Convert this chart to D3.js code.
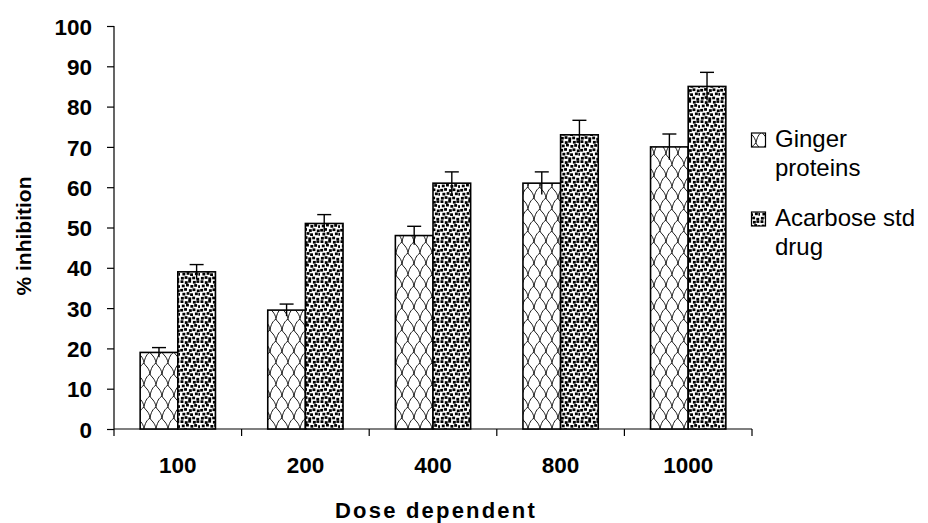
<!DOCTYPE html>
<html>
<head>
<meta charset="utf-8">
<script src="https://cdn.jsdelivr.net/npm/d3@7"></script>
<style>
  body { margin: 0; background: #fff; }
  text { font-family: "Liberation Sans", Arial, sans-serif; }
</style>
</head>
<body>
<svg id="chart" width="928" height="523"></svg>
<script>
// data
var doses = ["100", "200", "400", "800", "1000"];
var ginger = [19, 29.5, 48, 61, 70];
var gingerErr = [1.2, 1.5, 2.3, 2.8, 3.2];
var acarbose = [39, 51, 61, 73, 85];
var acarboseErr = [1.8, 2.2, 2.8, 3.6, 3.5];
var legendLines = [["Ginger", "proteins"], ["Acarbose std", "drug"]];
var yTicks = [0, 10, 20, 30, 40, 50, 60, 70, 80, 90, 100];

var svg = d3.select("#chart");
var defs = svg.append("defs");

// fish scale pattern for ginger
var pg = defs.append("pattern")
    .attr("id", "scales")
    .attr("patternUnits", "userSpaceOnUse")
    .attr("width", 12).attr("height", 22);
pg.append("rect").attr("width", 12).attr("height", 22).attr("fill", "#fff");
pg.append("path")
    .attr("d", "M0,11 C1,5 3,2 6,0 C7,3 11,4 12,11" +
               "M-6,22 C-5,16 -3,13 0,11 C1,14 5,15 6,22" +
               "M6,22 C7,16 9,13 12,11 C13,14 17,15 18,22")
    .attr("fill", "none")
    .attr("stroke", "#000")
    .attr("stroke-width", 0.9);

// speckled pattern for acarbose
var pd = defs.append("pattern")
    .attr("id", "dots")
    .attr("patternUnits", "userSpaceOnUse")
    .attr("width", 20).attr("height", 20);
pd.append("rect").attr("width", 20).attr("height", 20).attr("fill", "#fff");
[[0.5,0.3],[4.8,1.2],[8.2,0],[12.9,0.9],[16.4,0.2],
 [1.8,4.6],[6.0,3.8],[10.4,5.0],[14.2,4.1],[18.1,5.2],
 [0.2,8.9],[4.1,8.1],[8.9,9.2],[12.5,8.4],[16.8,9.5],
 [2.4,12.8],[6.6,12.1],[10.1,13.3],[14.9,12.5],[18.4,13.0],
 [0.9,16.9],[4.6,16.2],[8.3,17.4],[12.2,16.6],[16.3,17.8]].forEach(function(p) {
    pd.append("rect").attr("x", p[0]).attr("y", p[1])
        .attr("width", 2.9).attr("height", 2.7).attr("fill", "#000");
});

var x0 = d3.scaleBand().domain(doses).range([114, 752]).paddingInner(0.41).paddingOuter(0.205);
var x1 = d3.scaleBand().domain([0, 1]).range([0, x0.bandwidth()]);
var y = d3.scaleLinear().domain([0, 100]).range([429, 26]);

// axes
var yAxis = svg.append("g")
    .attr("transform", "translate(114,0)")
    .call(d3.axisLeft(y).tickValues(yTicks).tickSize(7).tickPadding(15));
yAxis.attr("font-family", null).attr("font-size", null);
yAxis.select(".domain").attr("stroke", "#000").attr("stroke-width", 1.2).attr("d", "M-7,26.5H0V429");
yAxis.selectAll("text")
    .attr("font-size", 22.5).attr("font-weight", "bold").attr("fill", "#000")
    .attr("dy", "0.36em");
yAxis.selectAll("line").attr("stroke-width", 1.2);

svg.append("line")
    .attr("x1", 114).attr("x2", 752)
    .attr("y1", y(0)).attr("y2", y(0))
    .attr("stroke", "#000").attr("stroke-width", 1.2);

svg.append("g").selectAll("line")
    .data(d3.range(doses.length + 1))
    .join("line")
    .attr("x1", function(i) { return 114 + i * x0.step(); })
    .attr("x2", function(i) { return 114 + i * x0.step(); })
    .attr("y1", y(0)).attr("y2", y(0) + 7)
    .attr("stroke", "#000").attr("stroke-width", 1.2);

svg.append("g").selectAll("text")
    .data(doses)
    .join("text")
    .attr("x", function(d) { return x0(d) + x0.bandwidth() / 2; })
    .attr("y", 473)
    .attr("text-anchor", "middle")
    .attr("font-size", 22.5).attr("font-weight", "bold")
    .text(function(d) { return d; });

// bars
var series = [
    {vals: ginger, err: gingerErr, fill: "url(#scales)"},
    {vals: acarbose, err: acarboseErr, fill: "url(#dots)"}
];

series.forEach(function(s, si) {
    svg.append("g").selectAll("rect")
        .data(doses)
        .join("rect")
        .attr("x", function(d) { return x0(d) + x1(si); })
        .attr("y", function(d, i) { return y(s.vals[i]); })
        .attr("width", x1.bandwidth())
        .attr("height", function(d, i) { return y(0) - y(s.vals[i]); })
        .attr("fill", s.fill)
        .attr("stroke", "#000").attr("stroke-width", 1.6);
});

// error bars
series.forEach(function(s, si) {
    var g = svg.append("g");
    doses.forEach(function(d, i) {
        var cx = x0(d) + x1(si) + x1.bandwidth() / 2;
        g.append("line")
            .attr("x1", cx).attr("x2", cx)
            .attr("y1", y(s.vals[i] + s.err[i])).attr("y2", y(s.vals[i] - s.err[i]))
            .attr("stroke", "#000").attr("stroke-width", 1.4);
        g.append("line")
            .attr("x1", cx - 7).attr("x2", cx + 7)
            .attr("y1", y(s.vals[i] + s.err[i])).attr("y2", y(s.vals[i] + s.err[i]))
            .attr("stroke", "#000").attr("stroke-width", 1.4);
    });
});

// axis titles
svg.append("text")
    .attr("transform", "translate(31,236) rotate(-90)")
    .attr("text-anchor", "middle")
    .attr("font-size", 21).attr("font-weight", "bold")
    .text("% inhibition");

svg.append("text")
    .attr("x", 436).attr("y", 518)
    .attr("text-anchor", "middle")
    .attr("letter-spacing", 2.2)
    .attr("font-size", 22).attr("font-weight", "bold")
    .text("Dose dependent");

// legend
var legend = svg.append("g");
var legendY = [133, 212];
legendLines.forEach(function(lines, i) {
    legend.append("rect")
        .attr("x", 751.5).attr("y", legendY[i])
        .attr("width", 14).attr("height", 14)
        .attr("fill", series[i].fill)
        .attr("stroke", "#000").attr("stroke-width", 1.2);
    legend.append("text")
        .attr("x", 775).attr("y", legendY[i] + 14)
        .attr("font-size", 24)
        .selectAll("tspan")
        .data(lines)
        .join("tspan")
        .attr("x", 775)
        .attr("dy", function(d, j) { return j ? 29 : 0; })
        .text(function(d) { return d; });
});
</script>
</body>
</html>
